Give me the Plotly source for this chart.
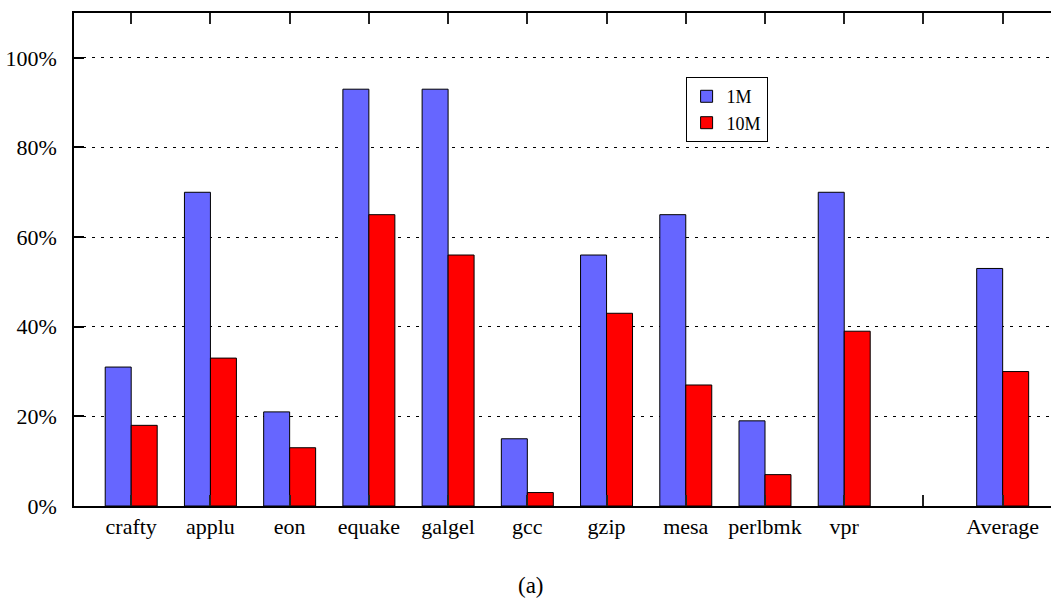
import plotly.graph_objects as go

# Benchmarks (an empty slot separates the per-benchmark bars from the average)
categories = ["crafty", "applu", "eon", "equake", "galgel", "gcc",
              "gzip", "mesa", "perlbmk", "vpr", "", "Average"]
series_1m = [31, 70, 21, 93, 93, 15, 56, 65, 19, 70, None, 53]
series_10m = [18, 33, 13, 65, 56, 3, 43, 27, 7, 39, None, 30]
y_ticks = [0, 20, 40, 60, 80, 100]
y_tick_labels = ["0%", "20%", "40%", "60%", "80%", "100%"]

positions = list(range(len(categories)))
serif = "Liberation Serif"

fig = go.Figure()
fig.add_trace(go.Bar(
    x=positions, y=series_1m, name="1M",
    marker=dict(color="#6666FF", line=dict(color="#000000", width=1)),
))
fig.add_trace(go.Bar(
    x=positions, y=series_10m, name="10M",
    marker=dict(color="#FF0000", line=dict(color="#000000", width=1)),
))

fig.update_layout(
    width=1051, height=599,
    margin=dict(l=74, r=0, t=13, b=93),
    paper_bgcolor="white", plot_bgcolor="white",
    barmode="group", bargap=0.344, bargroupgap=0,
    font=dict(family=serif, size=22, color="#000000"),
    showlegend=True,
    legend=dict(
        x=0.626, y=0.870, xanchor="left", yanchor="top",
        bgcolor="white", bordercolor="#000000", borderwidth=1,
        font=dict(family=serif, size=18),
        itemwidth=30, tracegroupgap=0,
    ),
    xaxis=dict(
        range=[-0.722, 11.61],
        tickmode="array", tickvals=positions, ticktext=categories,
        showline=True, linecolor="#000000", linewidth=1.5,
        mirror="ticks", ticks="inside", ticklen=11, tickcolor="#222222",
        tickwidth=1.5, showgrid=False, zeroline=False,
        tickfont=dict(family=serif, size=22),
    ),
    yaxis=dict(
        range=[0, 110],
        tickmode="array", tickvals=y_ticks, ticktext=y_tick_labels,
        showline=True, linecolor="#000000", linewidth=1.5,
        ticks="inside", ticklen=10, tickcolor="#000000", tickwidth=1.5,
        showgrid=True, gridcolor="#000000", gridwidth=1,
        griddash="3px,6px", zeroline=False,
        ticklabelstandoff=11,
        tickfont=dict(family=serif, size=22),
    ),
    annotations=[dict(
        text="(a)", x=(531 - 74) / 977, y=0, xref="paper", yref="paper",
        xanchor="center", yanchor="middle", yshift=-79, showarrow=False,
        font=dict(family=serif, size=23),
    )],
)

fig.write_html("out.html")
